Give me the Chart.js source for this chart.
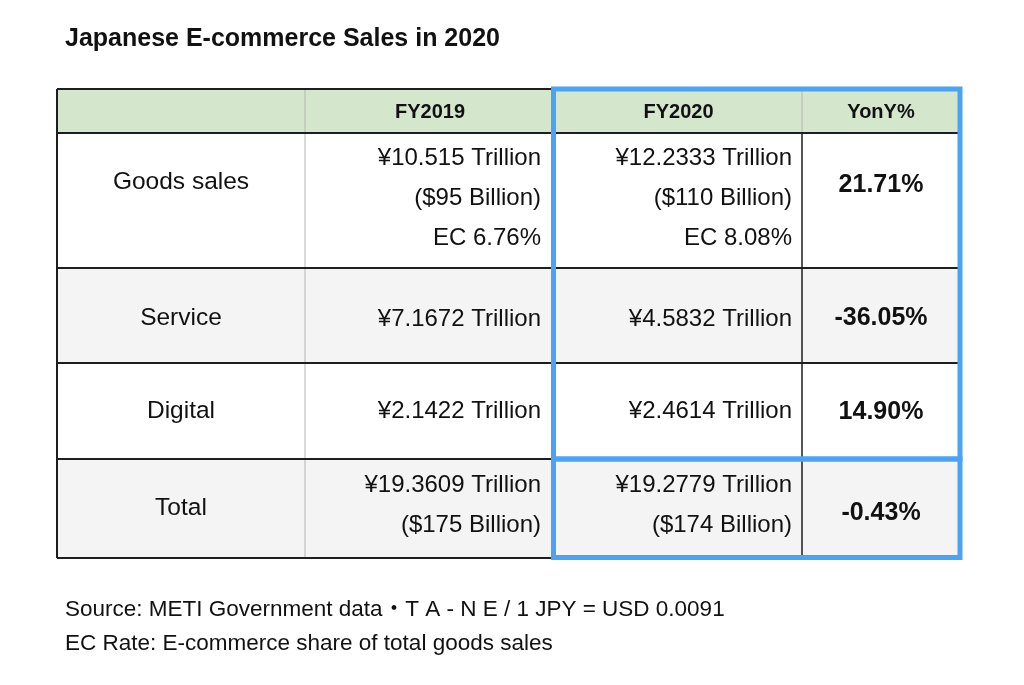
<!DOCTYPE html>
<html lang="en">
<head>
<meta charset="utf-8">
<title>Japanese E-commerce Sales in 2020</title>
<script src="https://cdn.jsdelivr.net/npm/chart.js@4.4.1/dist/chart.umd.min.js"></script>
<style>
    html, body { margin: 0; padding: 0; background: #ffffff; }
    #wrap { width: 1024px; height: 685px; }
</style>
</head>
<body>
<div id="wrap"><canvas id="salesTable" width="1024" height="685"></canvas></div>
<script>
// ── Data (METI, FY2019 vs FY2020) ────────────────────────────
const columnHeaders  = ['', 'FY2019', 'FY2020', 'YonY%'];
const rowLabels      = ['Goods sales', 'Service', 'Digital', 'Total'];
const fy2019Trillion = [10.515, 7.1672, 2.1422, 19.3609];
const fy2019Billion  = [95, null, null, 175];
const fy2019EcRate   = [6.76, null, null, null];
const fy2020Trillion = [12.2333, 4.5832, 2.4614, 19.2779];
const fy2020Billion  = [110, null, null, 174];
const fy2020EcRate   = [8.08, null, null, null];
const yonyPct        = [21.71, -36.05, 14.90, -0.43];
const footNotes      = [
    'Source: METI Government data\u30FBT A - N E / 1 JPY = USD 0.0091',
    'EC Rate: E-commerce share of total goods sales',
];

// ── Layout (table units map 1:1 onto the hidden linear scales) ──
const colWidths   = [248, 250, 247, 158];
const rowHeights  = [44, 135, 95, 96, 99];      // header + 4 body rows
const rowFills    = ['#d4e7cd', '#ffffff', '#f4f4f4', '#ffffff', '#f4f4f4'];
const labelShift  = [-18, 3, 0.5, 0];
const yonyShift   = [-15.5, 3, 1.5, 5];
const valueShift  = [-2, 4, 0.5, -3];
const valuePad    = [0, 14, 10];
const LINE_GAP    = 40;
const FONT        = '"Liberation Sans", Arial, Helvetica, "Noto Sans CJK JP", sans-serif';
const INK         = '#111111';
const GRID_DARK   = '#1e1e1e';
const GRID_LIGHT  = '#b4b4b4';
const FRAME_BLUE  = '#4aa3f3';

const colEdges = colWidths.reduce((acc, w) => (acc.push(acc[acc.length - 1] + w), acc), [0]);
const rowEdges = rowHeights.reduce((acc, h) => (acc.push(acc[acc.length - 1] + h), acc), [0]);

function cellLines(i, col) {
    const tri  = col === 1 ? fy2019Trillion : fy2020Trillion;
    const bil  = col === 1 ? fy2019Billion  : fy2020Billion;
    const ec   = col === 1 ? fy2019EcRate   : fy2020EcRate;
    const out  = [`\u00A5${tri[i]} Trillion`];
    if (bil[i] !== null) out.push(`($${bil[i]} Billion)`);
    if (ec[i]  !== null) out.push(`EC ${ec[i].toFixed(2)}%`);
    return out;
}

// ── Table plugin: draws cells through the chart's x / y scales ──
const tablePlugin = {
    id: 'tableCells',
    afterDraw(chart) {
        const { ctx, scales: { x, y } } = chart;
        const px = v => x.getPixelForValue(v);
        const py = v => y.getPixelForValue(v);
        const left = px(colEdges[0]), right = px(colEdges[colEdges.length - 1]);
        const top  = py(rowEdges[0]), bottom = py(rowEdges[rowEdges.length - 1]);

        ctx.save();

        // fills
        rowFills.forEach((fill, r) => {
            ctx.fillStyle = fill;
            ctx.fillRect(left, py(rowEdges[r]), right - left, py(rowEdges[r + 1]) - py(rowEdges[r]));
        });

        // vertical rules
        colEdges.forEach((c, k) => {
            const outer = k === 0 || k === colEdges.length - 1;
            // header row: light separators
            ctx.beginPath();
            ctx.strokeStyle = outer ? GRID_DARK : GRID_LIGHT;
            ctx.lineWidth   = outer ? 2 : 1;
            ctx.moveTo(px(c), top);
            ctx.lineTo(px(c), py(rowEdges[1]));
            ctx.stroke();
            // body rows
            ctx.beginPath();
            ctx.strokeStyle = k === 1 ? GRID_LIGHT : GRID_DARK;
            ctx.lineWidth   = outer ? 2 : (k === 1 ? 1 : 1.5);
            ctx.moveTo(px(c), py(rowEdges[1]));
            ctx.lineTo(px(c), bottom);
            ctx.stroke();
        });

        // horizontal rules
        rowEdges.forEach(r => {
            ctx.beginPath();
            ctx.strokeStyle = GRID_DARK;
            ctx.lineWidth   = 2;
            ctx.moveTo(left, py(r));
            ctx.lineTo(right, py(r));
            ctx.stroke();
        });

        // header text
        ctx.fillStyle    = INK;
        ctx.textBaseline = 'middle';
        ctx.textAlign    = 'center';
        ctx.font         = `bold 20px ${FONT}`;
        const headY = (py(rowEdges[0]) + py(rowEdges[1])) / 2 + 1.5;
        columnHeaders.forEach((h, c) => {
            if (!h) return;
            ctx.fillText(h, (px(colEdges[c]) + px(colEdges[c + 1])) / 2, headY);
        });

        // body text
        rowLabels.forEach((label, i) => {
            const rTop = py(rowEdges[i + 1]), rBot = py(rowEdges[i + 2]);
            const mid  = (rTop + rBot) / 2;

            ctx.textAlign = 'center';
            ctx.font      = `24.5px ${FONT}`;
            ctx.fillText(label, (px(colEdges[0]) + px(colEdges[1])) / 2, mid + labelShift[i]);

            ctx.textAlign = 'right';
            ctx.font      = `24px ${FONT}`;
            [1, 2].forEach(col => {
                const lines = cellLines(i, col);
                const start = mid + valueShift[i] - (lines.length - 1) * LINE_GAP / 2;
                lines.forEach((t, j) => ctx.fillText(t, px(colEdges[col + 1]) - valuePad[col], start + j * LINE_GAP));
            });

            ctx.textAlign = 'center';
            ctx.font      = `bold 25px ${FONT}`;
            const pct = yonyPct[i].toFixed(2) + '%';
            ctx.fillText(pct, (px(colEdges[3]) + px(colEdges[4])) / 2, mid + yonyShift[i]);
        });

        // FY2020 highlight frames
        ctx.strokeStyle = FRAME_BLUE;
        ctx.lineWidth   = 5;
        ctx.strokeRect(px(colEdges[2]) - 1.5, py(rowEdges[0]), px(colEdges[4]) - px(colEdges[2]) + 1.5, py(rowEdges[4]) - py(rowEdges[0]));
        ctx.strokeRect(px(colEdges[2]) - 1.5, py(rowEdges[4]), px(colEdges[4]) - px(colEdges[2]) + 1.5, py(rowEdges[5]) - py(rowEdges[4]) - 0.5);

        ctx.restore();
    },
};

// ── Chart ────────────────────────────────────────────────────
const canvas = document.getElementById('salesTable');
new Chart(canvas.getContext('2d'), {
    type: 'scatter',
    data: { datasets: [{ data: [], pointRadius: 0 }] },
    options: {
        responsive: false,
        animation: false,
        events: [],
        layout: { padding: { left: 65, right: 64, top: 0, bottom: 0 } },
        plugins: {
            legend:  { display: false },
            tooltip: { enabled: false },
            title: {
                display: true,
                text: 'Japanese E-commerce Sales in 2020',
                align: 'start',
                color: INK,
                font: { family: FONT, size: 25, weight: 'bold', lineHeight: 1.2 },
                padding: { top: 24, bottom: 35 },
            },
            subtitle: {
                display: true,
                position: 'bottom',
                text: footNotes,
                align: 'start',
                color: INK,
                font: { family: FONT, size: 22.5, weight: 'normal', lineHeight: 1.5 },
                padding: { top: 35, bottom: 24.5 },
            },
        },
        scales: {
            x: { type: 'linear', display: false, min: 8, max: colEdges[colEdges.length - 1] },
            y: { type: 'linear', display: false, min: 0, max: rowEdges[rowEdges.length - 1], reverse: true },
        },
    },
    plugins: [tablePlugin],
});
</script>
</body>
</html>
